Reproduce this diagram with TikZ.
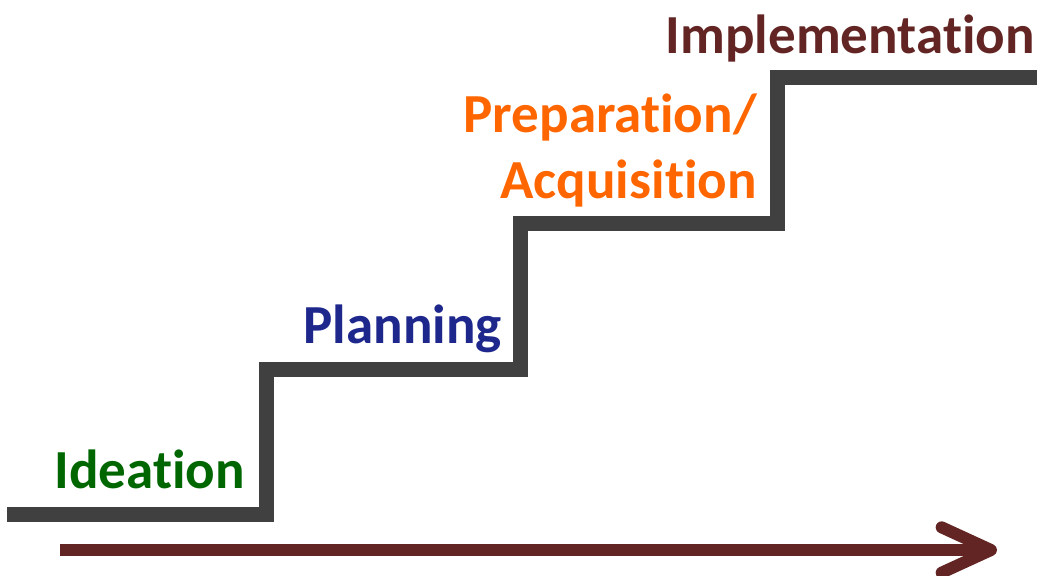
\documentclass[tikz,border=0pt]{standalone}
\usepackage{fontspec}
\setmainfont{Carlito}[Ligatures={NoCommon}]
\usetikzlibrary{arrows.meta}
\definecolor{stairgray}{RGB}{64,64,64}
\definecolor{darkred}{RGB}{99,37,35}
\definecolor{ideagreen}{RGB}{0,102,0}
\definecolor{plannavy}{RGB}{30,40,140}
\definecolor{preporange}{RGB}{255,102,0}
\begin{document}
\begin{tikzpicture}[x=0.75pt,y=-0.75pt,
  stairs/.style={draw=stairgray,line width=11.25pt,line join=miter,line cap=butt},
  timeline/.style={draw=darkred,line width=9pt,-{Straight Barb[length=37pt,width=34pt,round]}},
  phase/.style={inner sep=0pt,anchor=base east,align=right,
    font=\fontsize{41.3}{49.5}\selectfont\bfseries}]
  \useasboundingbox (0,0) rectangle (1045,575);
  % the steps
  \draw[stairs] (7,514) -- (266,514) -- (266,369) -- (520,369) -- (520,223)
    -- (777,223) -- (777,77) -- (1037,77);
  % labels on the steps
  \node (ideation) [phase,text=ideagreen] at (245,488) {Ideation};
  \node (planning) [phase,text=plannavy] at (502,343) {Planning};
  \node (preparation) [phase,text=preporange] at (757,198) {Preparation/\\Acquisition};
  \node (implementation) [phase,text=darkred] at (1035,53) {Implementation};
  % time arrow
  \coordinate (start) at (60,550);
  \coordinate (end) at (997,550);
  \draw[timeline] (start) -- (end);
\end{tikzpicture}
\end{document}
